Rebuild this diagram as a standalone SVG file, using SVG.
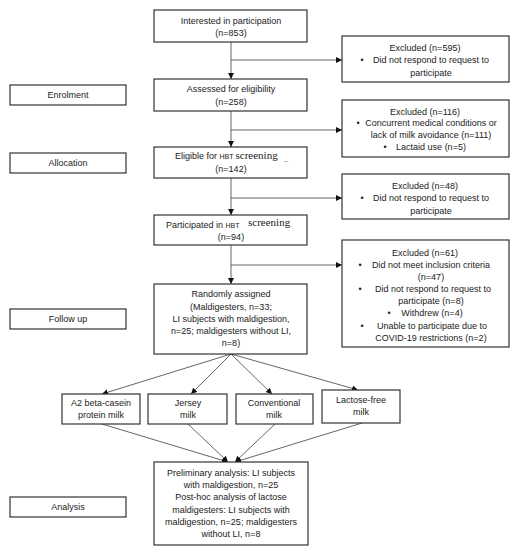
<svg xmlns="http://www.w3.org/2000/svg" width="521" height="550" viewBox="0 0 521 550">
<defs>
<marker id="ah" markerUnits="userSpaceOnUse" markerWidth="7" markerHeight="7" refX="6" refY="3" orient="auto">
<path d="M0,0 L6,3 L0,6 Z" fill="#111"/>
</marker>
<style>
.box{fill:#fff;stroke:#333;stroke-width:1.2}
.t{font-family:"Liberation Sans",Arial,sans-serif;font-size:9px;fill:#222;text-anchor:middle}
.l{text-anchor:start}
.s{font-family:"Liberation Serif","Times New Roman",serif;font-size:11px;fill:#222}
.c{stroke:#555;stroke-width:0.9;fill:none}
.ca{stroke:#555;stroke-width:0.9;fill:none;marker-end:url(#ah)}
</style>
</defs>
<rect width="521" height="550" fill="#fff"/>

<g id="connectors">
<line class="ca" x1="231" y1="42" x2="231" y2="79"/>
<line class="ca" x1="231" y1="60" x2="342" y2="60"/>
<line class="ca" x1="231" y1="111" x2="231" y2="147"/>
<line class="ca" x1="231" y1="130" x2="342" y2="130"/>
<line class="ca" x1="231" y1="178" x2="231" y2="215"/>
<line class="ca" x1="231" y1="198" x2="342" y2="198"/>
<line class="ca" x1="231" y1="245" x2="231" y2="284"/>
<line class="ca" x1="231" y1="265" x2="342" y2="265"/>
<line class="ca" x1="231" y1="354" x2="102" y2="394"/>
<line class="ca" x1="231" y1="354" x2="191" y2="394"/>
<line class="ca" x1="231" y1="354" x2="272" y2="394"/>
<line class="ca" x1="231" y1="354" x2="358" y2="390"/>
<line class="ca" x1="102" y1="424" x2="228" y2="462"/>
<line class="ca" x1="188" y1="424" x2="228" y2="462"/>
<line class="ca" x1="275" y1="424" x2="235" y2="462"/>
<line class="ca" x1="362" y1="423" x2="235" y2="462"/>
</g>

<g id="interested">
<rect class="box" x="154" y="10" width="153" height="32"/>
<text class="t" x="231" y="24">Interested in participation</text>
<text class="t" x="231" y="36">(n=853)</text>
</g>

<g id="excluded1">
<rect class="box" x="342" y="36" width="167" height="46"/>
<text class="t" x="425" y="51">Excluded (n=595)</text>
<text class="t" x="362" y="63">•</text>
<text class="t" x="431" y="63">Did not respond to request to</text>
<text class="t" x="431" y="76">participate</text>
</g>

<g id="enrolment">
<rect class="box" x="10" y="85" width="116" height="20"/>
<text class="t" x="68" y="98">Enrolment</text>
</g>

<g id="assessed">
<rect class="box" x="154" y="79" width="153" height="32"/>
<text class="t" x="231" y="92">Assessed for eligibility</text>
<text class="t" x="231" y="105">(n=258)</text>
</g>

<g id="excluded2">
<rect class="box" x="342" y="100" width="167" height="57"/>
<text class="t" x="425" y="115">Excluded (n=116)</text>
<text class="t" x="358" y="126">•</text>
<text class="t" x="431" y="126">Concurrent medical conditions or</text>
<text class="t" x="431" y="138">lack of milk avoidance (n=111)</text>
<text class="t" x="385" y="150">•</text>
<text class="t" x="431" y="150">Lactaid use (n=5)</text>
</g>

<g id="allocation">
<rect class="box" x="10" y="153" width="116" height="20"/>
<text class="t" x="68" y="166">Allocation</text>
</g>

<g id="eligible">
<rect class="box" x="154" y="147" width="153" height="31"/>
<text class="t l" x="175" y="159">Eligible for <tspan style="font-size:7px">HBT</tspan><tspan class="s" dx="2">screening</tspan></text>
<text class="t" x="286" y="161" style="font-size:6px">_</text>
<text class="t" x="231" y="172">(n=142)</text>
</g>

<g id="excluded3">
<rect class="box" x="342" y="174" width="167" height="45"/>
<text class="t" x="425" y="189">Excluded (n=48)</text>
<text class="t" x="362" y="201">•</text>
<text class="t" x="431" y="201">Did not respond to request to</text>
<text class="t" x="431" y="214">participate</text>
</g>

<g id="participated">
<rect class="box" x="154" y="215" width="153" height="30"/>
<text class="t l" x="166" y="228">Participated in <tspan style="font-size:7px">HBT</tspan></text>
<text class="s" x="248" y="226">screening</text>
<text class="t" x="231" y="240">(n=94)</text>
</g>

<g id="excluded4">
<rect class="box" x="342" y="240" width="167" height="107"/>
<text class="t" x="425" y="256">Excluded (n=61)</text>
<text class="t" x="360" y="268">•</text>
<text class="t" x="431" y="268">Did not meet inclusion criteria</text>
<text class="t" x="431" y="280">(n=47)</text>
<text class="t" x="360" y="292">•</text>
<text class="t" x="433" y="292">Did not respond to request to</text>
<text class="t" x="431" y="304">participate (n=8)</text>
<text class="t" x="389" y="316">•</text>
<text class="t" x="432" y="316">Withdrew (n=4)</text>
<text class="t" x="362" y="329">•</text>
<text class="t" x="432" y="329">Unable to participate due to</text>
<text class="t" x="431" y="341">COVID-19 restrictions (n=2)</text>
</g>

<g id="followup">
<rect class="box" x="10" y="309" width="116" height="20"/>
<text class="t" x="68" y="322">Follow up</text>
</g>

<g id="randomly">
<rect class="box" x="154" y="284" width="153" height="70"/>
<text class="t" x="231" y="297">Randomly assigned</text>
<text class="t" x="231" y="310">(Maldigesters, n=33;</text>
<text class="t" x="231" y="322">LI subjects with maldigestion,</text>
<text class="t" x="231" y="334">n=25; maldigesters without LI,</text>
<text class="t" x="231" y="346">n=8)</text>
</g>

<g id="a2">
<rect class="box" x="62" y="394" width="78" height="30"/>
<text class="t" x="101" y="406">A2 beta-casein</text>
<text class="t" x="101" y="418">protein milk</text>
</g>

<g id="jersey">
<rect class="box" x="148" y="394" width="79" height="30"/>
<text class="t" x="188" y="406">Jersey</text>
<text class="t" x="188" y="418">milk</text>
</g>

<g id="conventional">
<rect class="box" x="236" y="394" width="77" height="30"/>
<text class="t" x="274" y="406">Conventional</text>
<text class="t" x="274" y="418">milk</text>
</g>

<g id="lactosefree">
<rect class="box" x="322" y="390" width="78" height="33"/>
<text class="t" x="361" y="403">Lactose-free</text>
<text class="t" x="361" y="415">milk</text>
</g>

<g id="analysis">
<rect class="box" x="10" y="497" width="116" height="20"/>
<text class="t" x="68" y="510">Analysis</text>
</g>

<g id="results">
<rect class="box" x="154" y="462" width="154" height="83"/>
<text class="t" x="231" y="476">Preliminary analysis: LI subjects</text>
<text class="t" x="231" y="488">with maldigestion, n=25</text>
<text class="t" x="231" y="500">Post-hoc analysis of lactose</text>
<text class="t" x="231" y="513">maldigesters: LI subjects with</text>
<text class="t" x="231" y="525">maldigestion, n=25; maldigesters</text>
<text class="t" x="231" y="537">without LI, n=8</text>
</g>
</svg>
